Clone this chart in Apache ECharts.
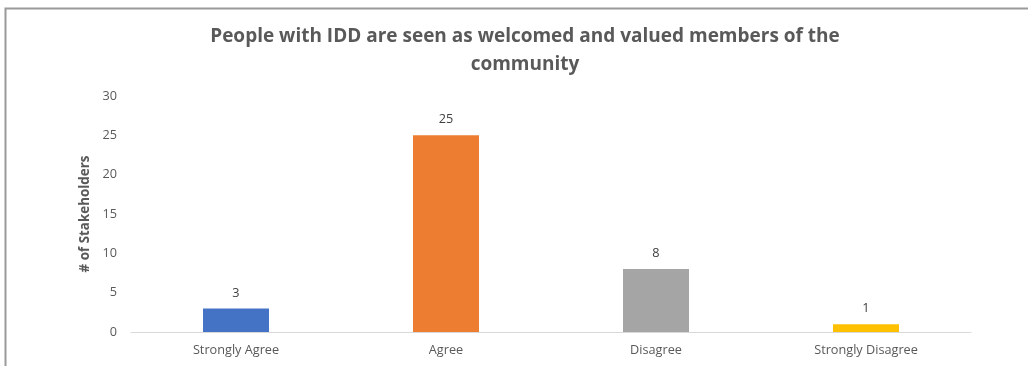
<!DOCTYPE html>
<html>
<head>
<meta charset="utf-8">
<script src="https://cdn.jsdelivr.net/npm/echarts@6/dist/echarts.min.js"></script>
<style>
  html, body { margin: 0; padding: 0; background: #fff; }
  #chart { width: 1028px; height: 366px; }
</style>
</head>
<body>
<div id="chart"></div>
<script>
const categories = ['Strongly Agree', 'Agree', 'Disagree', 'Strongly Disagree'];
const counts = [3, 25, 8, 1];
const barColors = ['#4472C4', '#ED7D31', '#A5A5A5', '#FFC000'];
const yTicks = { min: 0, max: 30, interval: 5 };
const titleText = 'People with IDD are seen as welcomed and valued members of the\ncommunity';
const yAxisTitle = '# of Stakeholders';

const font = '"Open Sans", "Noto Sans", sans-serif';
const chart = echarts.init(document.getElementById('chart'), null, { renderer: 'canvas' });

chart.setOption({
  animation: false,
  backgroundColor: '#fff',
  title: {
    text: titleText,
    left: 520,
    top: 18,
    textAlign: 'center',
    textStyle: {
      fontFamily: font,
      fontSize: 19,
      fontWeight: 'bold',
      color: '#595959',
      lineHeight: 28
    }
  },
  graphic: [
    {
      type: 'polyline',
      shape: { points: [[5.5, 366], [5.5, 8.5], [1028, 8.5]] },
      style: { stroke: '#9a9a9a', lineWidth: 2, fill: null },
      silent: true
    }
  ],
  grid: { left: 131, right: 57, top: 96, bottom: 34, containLabel: false },
  xAxis: {
    type: 'category',
    data: categories,
    axisLine: { lineStyle: { color: '#d9d9d9', width: 1 } },
    axisTick: { show: false },
    axisLabel: { color: '#595959', fontFamily: font, fontSize: 12.7, margin: 12 }
  },
  yAxis: {
    type: 'value',
    min: yTicks.min,
    max: yTicks.max,
    interval: yTicks.interval,
    name: yAxisTitle,
    nameLocation: 'middle',
    nameGap: 33,
    nameRotate: 90,
    nameTextStyle: { color: '#595959', fontFamily: font, fontSize: 13.4, fontWeight: 'bold' },
    axisLine: { show: false },
    axisTick: { show: false },
    splitLine: { show: false },
    axisLabel: { color: '#595959', fontFamily: font, fontSize: 12.7, margin: 14 }
  },
  series: [{
    type: 'bar',
    data: counts.map((v, i) => ({ value: v, itemStyle: { color: barColors[i] } })),
    barWidth: 66,
    label: {
      show: true,
      position: 'top',
      distance: 9,
      color: '#404040',
      fontFamily: font,
      fontSize: 12.7
    }
  }]
});
</script>
</body>
</html>
